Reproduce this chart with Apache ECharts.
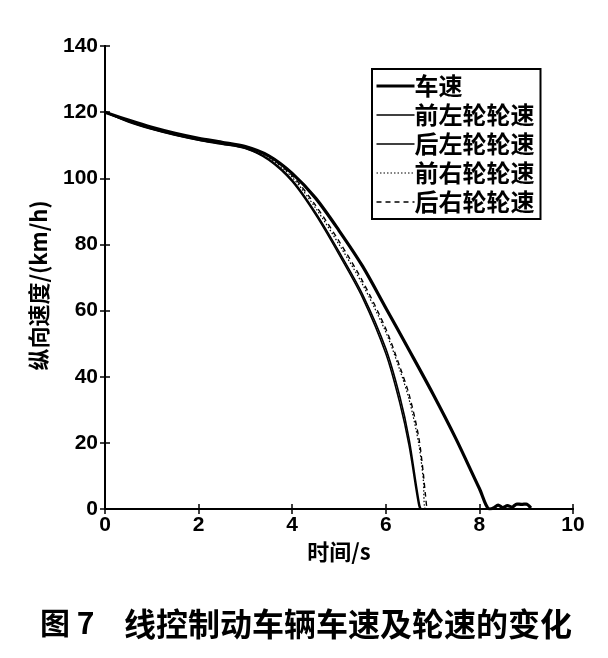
<!DOCTYPE html>
<html>
<head>
<meta charset="utf-8">
<script src="https://cdn.jsdelivr.net/npm/echarts@6/dist/echarts.min.js"></script>
<style>html,body{margin:0;padding:0;background:#fff}#c{width:608px;height:658px}</style>
</head>
<body>
<div id="c"></div>
<script>
// ---- data ----
var seriesNames = ['车速', '前左轮轮速', '后左轮轮速', '前右轮轮速', '后右轮轮速'];
var xTicks = [0, 2, 4, 6, 8, 10];
var yTicks = [0, 20, 40, 60, 80, 100, 120, 140];

var tVehicle = [0,0.5,1,1.5,2,2.5,3,3.5,4,4.5,5,5.5,6,6.5,7,7.5,8,8.22,8.3,8.4,8.5,8.6,8.7,8.8,8.9,9.0,9.1];
var vVehicle = [120,117.6,115.4,113.6,112.1,110.9,109.6,106.8,101.5,94,84.2,73.5,60.8,48,35,21.2,6.2,0,0.3,1.2,0.4,1.0,0.6,1.5,1.4,1.5,0.3];

var tFrontLeft = [0,0.5,1,1.5,2,2.5,3,3.5,4,4.5,5,5.5,6,6.3,6.5,6.7,6.75,7,8,9.1];
var vFrontLeft = [120,117,114.8,113,111.5,110.3,109,105.5,99,89,77,64,47,32,19,1.5,0,0,0,0];

var tRearLeft = [0,0.5,1,1.5,2,2.5,3,3.5,4,4.5,5,5.5,6,6.3,6.5,6.7,6.77,7,8,9.1];
var vRearLeft = [120,117.2,114.9,113.1,111.6,110.4,109.1,105.8,99.5,89.6,77.8,65,48.5,34,21,3,0,0,0,0];

var tFrontRight = [0,0.5,1,1.5,2,2.5,3,3.5,4,4.5,5,5.5,6,6.3,6.5,6.7,6.8,6.85,7,9.1];
var vFrontRight = [120,117.3,115,113.2,111.7,110.5,109.2,106.2,100.3,91,80,68,53.5,42,33,20,9,0,0,0];

var tRearRight = [0,0.5,1,1.5,2,2.5,3,3.5,4,4.5,5,5.5,6,6.3,6.5,6.7,6.8,6.85,6.9,7,9.1];
var vRearRight = [120,117.4,115.1,113.3,111.8,110.6,109.3,106.5,100.8,91.8,81,69,54.5,43,34.5,22,11,4,0,0,0];

function pairs(t, v) { return t.map(function (x, i) { return [x, v[i]]; }); }

var chart = echarts.init(document.getElementById('c'), null, {renderer: 'canvas'});
var latin = 'Liberation Sans, Arial, sans-serif';
var cjk = 'Noto Sans CJK SC';
var axisLine = {show: true, lineStyle: {color: '#000', width: 2}};
var tick = {show: true, inside: true, length: 5, lineStyle: {color: '#000', width: 1.5}};
var lineWidths = [3.2, 1.6, 1.6, 1.2, 1.4];

chart.setOption({
  animation: false,
  backgroundColor: '#fff',
  grid: {left: 105, right: 35, top: 46, bottom: 149},
  legend: {
    data: seriesNames.map(function (n, i) { return {name: n, lineStyle: {width: i === 0 ? 3 : lineWidths[i]}}; }),
    orient: 'vertical',
    left: 372, top: 69,
    padding: [5, 6, 5, 3],
    itemGap: 5,
    itemWidth: 38, itemHeight: 14,
    borderColor: '#000', borderWidth: 2,
    backgroundColor: '#fff',
    itemStyle: {opacity: 0},
    textStyle: {fontFamily: cjk, fontWeight: 'bold', fontSize: 24, lineHeight: 24, color: '#000', padding: [0, 0, 0, -5]}
  },
  xAxis: [{
    type: 'value', min: 0, max: 10, interval: 2,
    name: '时间/s', nameLocation: 'middle', nameGap: 23,
    nameTextStyle: {fontFamily: cjk, fontWeight: 'bold', fontSize: 22, color: '#000'},
    axisLine: axisLine, axisTick: tick, splitLine: {show: false},
    axisLabel: {margin: 6, fontFamily: latin, fontWeight: 'bold', fontSize: 21, color: '#000',
      formatter: function (v) { return xTicks.indexOf(v) >= 0 ? String(v) : ''; }}
  }, {
    type: 'value', min: 0, max: 10, interval: 2, position: 'top',
    axisLine: axisLine, axisTick: tick, axisLabel: {show: false}, splitLine: {show: false}
  }],
  yAxis: [{
    type: 'value', min: 0, max: 140, interval: 20,
    name: '纵向速度/(km/h)', nameLocation: 'middle', nameGap: 55,
    nameTextStyle: {fontFamily: cjk, fontWeight: 'bold', fontSize: 22, color: '#000', padding: [0, 16, 0, 0]},
    axisLine: axisLine, axisTick: tick, splitLine: {show: false},
    axisLabel: {margin: 7, fontFamily: latin, fontWeight: 'bold', fontSize: 21, color: '#000',
      formatter: function (v) { return yTicks.indexOf(v) >= 0 ? String(v) : ''; }}
  }, {
    type: 'value', min: 0, max: 140, interval: 20, position: 'right',
    axisLine: axisLine, axisTick: tick, axisLabel: {show: false}, splitLine: {show: false}
  }],
  series: [
    {name: seriesNames[0], type: 'line', symbol: 'none', smooth: 0.3, data: pairs(tVehicle, vVehicle),
      lineStyle: {color: '#000', width: lineWidths[0]}, itemStyle: {color: '#000'}, z: 5},
    {name: seriesNames[1], type: 'line', symbol: 'none', smooth: 0.3, data: pairs(tFrontLeft, vFrontLeft),
      lineStyle: {color: '#000', width: lineWidths[1]}, itemStyle: {color: '#000'}},
    {name: seriesNames[2], type: 'line', symbol: 'none', smooth: 0.3, data: pairs(tRearLeft, vRearLeft),
      lineStyle: {color: '#000', width: lineWidths[2]}, itemStyle: {color: '#000'}},
    {name: seriesNames[3], type: 'line', symbol: 'none', smooth: 0.3, data: pairs(tFrontRight, vFrontRight),
      lineStyle: {color: '#000', width: lineWidths[3], type: [1.5, 2]}, itemStyle: {color: '#000'}},
    {name: seriesNames[4], type: 'line', symbol: 'none', smooth: 0.3, data: pairs(tRearRight, vRearRight),
      lineStyle: {color: '#000', width: lineWidths[4], type: [5, 4]}, itemStyle: {color: '#000'}}
  ],
  graphic: [
    {type: 'text', left: 40, top: 608, style: {text: '图 7', fontFamily: cjk, fontWeight: 'bold', fontSize: 30, fill: '#000'}},
    {type: 'text', left: 124, top: 608, style: {text: '线控制动车辆车速及轮速的变化', fontFamily: cjk, fontWeight: 'bold', fontSize: 32, fill: '#000'}}
  ]
});
</script>
</body>
</html>
